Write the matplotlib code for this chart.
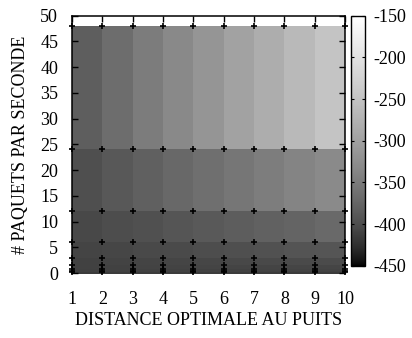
import numpy as np
import matplotlib
matplotlib.use("Agg")
import matplotlib.pyplot as plt
from matplotlib.colors import LinearSegmentedColormap

plt.rcParams['font.family'] = ['Liberation Serif', 'DejaVu Serif']
plt.rcParams['axes.unicode_minus'] = False

# grille des mesures : distance optimale au puits x paquets par seconde
distances = [1, 2, 3, 4, 5, 6, 7, 8, 9, 10]
paquets = [0.1875, 0.375, 0.75, 1.5, 3, 6, 12, 24, 48]

# valeurs aux noeuds, une ligne par débit (du plus faible au plus fort)
z_0_19 = [-411.9, -411.8, -411.6, -411.4, -411.2, -411.0, -410.8, -410.6, -410.4, -410.2]
z_0_38 = [-411.8, -411.6, -411.4, -411.2, -411.0, -410.8, -410.6, -410.4, -410.2, -410.0]
z_0_75 = [-411.6, -411.2, -410.9, -410.5, -410.2, -409.8, -409.5, -409.1, -408.8, -408.4]
z_1_5 = [-411.1, -410.4, -409.7, -409.0, -408.3, -407.6, -406.9, -406.2, -405.5, -404.8]
z_3 = [-410.3, -408.9, -407.5, -406.1, -404.7, -403.2, -401.8, -400.4, -399.0, -397.6]
z_6 = [-408.6, -405.8, -402.9, -400.1, -397.3, -394.5, -391.7, -388.8, -386.0, -383.2]
z_12 = [-405.2, -399.5, -393.9, -388.2, -382.6, -377.0, -371.3, -365.7, -360.0, -354.4]
z_24 = [-398.3, -387.0, -375.8, -364.5, -353.2, -341.9, -330.6, -319.4, -308.1, -296.8]
z_48 = [-384.6, -362.1, -339.5, -317.0, -294.4, -271.8, -249.3, -226.7, -204.2, -181.6]

Z = np.array([z_0_19, z_0_38, z_0_75, z_1_5, z_3, z_6, z_12, z_24, z_48])
X = np.array(distances, dtype=float)
Y = np.array(paquets, dtype=float)

# couleur de chaque facette = moyenne des 4 coins (comme pm3d)
C = (Z[:-1, :-1] + Z[:-1, 1:] + Z[1:, :-1] + Z[1:, 1:]) / 4.0

# palette grise avec gamma 1.5
t = np.linspace(0, 1, 256)
g = t ** (1 / 1.5)
cmap = LinearSegmentedColormap.from_list('gris', np.column_stack([g, g, g]))

fig = plt.figure(figsize=(4.12, 3.38), dpi=100)
ax = fig.add_axes([0.1748, 0.1923, 0.6626, 0.7613])
cax = fig.add_axes([0.853, 0.214, 0.034, 0.7396])

mesh = ax.pcolormesh(X, Y, C, cmap=cmap, vmin=-450, vmax=-150, shading='flat')
XX, YY = np.meshgrid(X, Y)
ax.plot(XX.ravel(), YY.ravel(), '+', color='black', ms=5, mew=1.2, clip_on=False, zorder=3)

ax.set_xlim(1, 10)
ax.set_ylim(0, 50)
ax.set_xticks(distances)
ax.set_yticks(np.arange(0, 51, 5))
ax.tick_params(direction='in', length=4.3, width=1, top=True, right=True,
               labelsize=13, pad=13)
ax.tick_params(axis='y', pad=10)
for s in ax.spines.values():
    s.set_linewidth(1.1)
ax.set_xlabel('DISTANCE OPTIMALE AU PUITS', fontsize=13, labelpad=3)
ax.set_ylabel('# PAQUETS PAR SECONDE', fontsize=13, labelpad=8)

cb = fig.colorbar(mesh, cax=cax)
cb.set_ticks(np.arange(-450, -149, 50))
cb.ax.tick_params(direction='in', length=2.5, width=0.8, left=True, right=True,
                  labelsize=13, pad=6)
cb.outline.set_linewidth(1.0)

fig.savefig('out.png', dpi=100)
